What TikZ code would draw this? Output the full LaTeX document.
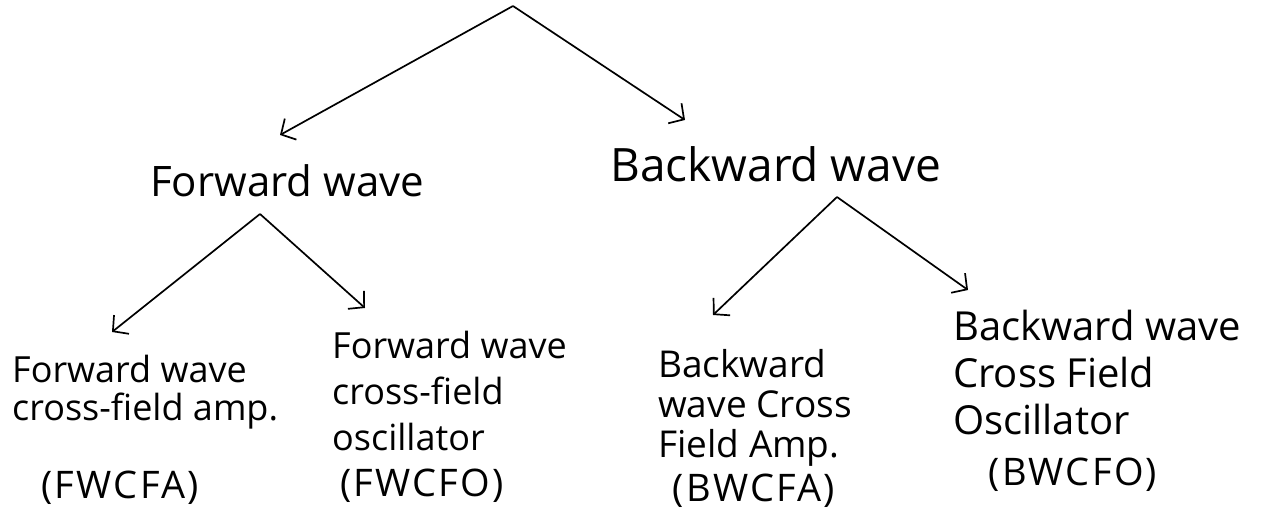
\documentclass[tikz,border=0pt]{standalone}
\usepackage{fontspec}
\setmainfont{Open Sans}
\usetikzlibrary{arrows.meta}
\begin{document}
\begin{tikzpicture}[x=1pt,y=-1pt,
  lbl/.style={inner sep=0pt, anchor=base west},
  leaf/.style={align=left, inner sep=0pt, anchor=north west},
  abbr/.style={font=\fontsize{38}{44}\selectfont\addfontfeatures{LetterSpace=6}, inner sep=0pt},
  arr/.style={line width=1.7pt, -{Straight Barb[length=11pt,width=24pt,line width=1.7pt]}}]
\useasboundingbox (0,0) rectangle (1261,510);
% level 1
\coordinate (root) at (513,6);
\node[lbl, font=\fontsize{42}{48}\selectfont] (fw) at (150,197) {Forward wave};
\node[lbl, font=\fontsize{46}{52}\selectfont] (bw) at (610,182) {Backward wave};
\coordinate (fwin) at (280,135);
\coordinate (bwin) at (685,120);
\draw[arr] (root) -- (fwin);
\draw[arr] (root) -- (bwin);
% forward children
\coordinate (fwa) at (260,214);
\coordinate (l1in) at (112,332);
\coordinate (l2in) at (365,308);
\draw[arr] (fwa) -- (l1in);
\draw[arr] (fwa) -- (l2in);
% backward children
\coordinate (bwa) at (837,197);
\coordinate (l3in) at (713,315);
\coordinate (l4in) at (968,290);
\draw[arr] (bwa) -- (l3in);
\draw[arr] (bwa) -- (l4in);
% leaves
\node[leaf, font=\fontsize{36}{38}\selectfont] (l1) at (12,355) {Forward wave\\cross-field amp.};
\node[abbr] (a1) at (120,488) {(FWCFA)};
\node[leaf, font=\fontsize{36}{46}\selectfont] (l2) at (332,331) {Forward wave\\cross-field\\oscillator};
\node[abbr] (a2) at (422,486) {(FWCFO)};
\node[leaf, font=\fontsize{37}{40}\selectfont] (l3) at (658,349) {Backward\\wave Cross\\Field Amp.};
\node[abbr] (a3) at (754,491) {(BWCFA)};
\node[leaf, font=\fontsize{40}{47}\selectfont] (l4) at (953,310) {Backward wave\\Cross Field\\Oscillator};
\node[abbr] (a4) at (1073,475) {(BWCFO)};
\end{tikzpicture}
\end{document}
